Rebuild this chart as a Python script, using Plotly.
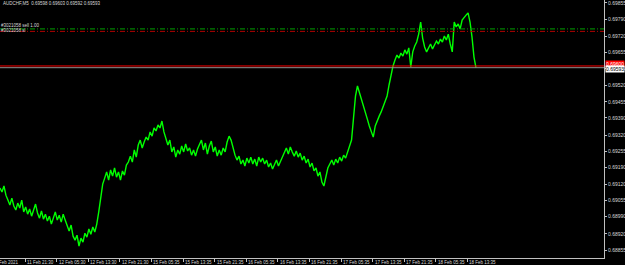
import plotly.graph_objects as go

# ---------------- data ----------------
symbol_caption = "AUDCHF,M5  0.69598 0.69603 0.69592 0.69593"

bar_step = 6  # M5 bars between stored closes

closes = [
    0.69106, 0.69090, 0.69114, 0.69077, 0.69057, 0.69037, 0.69065, 0.69033, 0.69017, 0.69045,
    0.69025, 0.69057, 0.69009, 0.69029, 0.69000, 0.69021, 0.68992, 0.69017, 0.69041, 0.69005,
    0.68984, 0.69013, 0.68980, 0.69000, 0.68972, 0.68992, 0.68960, 0.68984, 0.69009, 0.68976,
    0.68996, 0.68968, 0.69000, 0.68976, 0.68952, 0.68932, 0.68956, 0.68911, 0.68895, 0.68915,
    0.68871, 0.68903, 0.68887, 0.68923, 0.68907, 0.68940, 0.68919, 0.68948, 0.68928, 0.68960,
    0.69009, 0.69073, 0.69122, 0.69146, 0.69171, 0.69138, 0.69179, 0.69154, 0.69187, 0.69150,
    0.69171, 0.69138, 0.69175, 0.69158, 0.69199, 0.69211, 0.69235, 0.69211, 0.69260, 0.69231,
    0.69280, 0.69300, 0.69268, 0.69292, 0.69312, 0.69300, 0.69333, 0.69316, 0.69349, 0.69337,
    0.69361, 0.69349, 0.69377, 0.69333, 0.69308, 0.69280, 0.69300, 0.69252, 0.69272, 0.69231,
    0.69260, 0.69243, 0.69276, 0.69252, 0.69284, 0.69256, 0.69268, 0.69239, 0.69260, 0.69235,
    0.69264, 0.69280, 0.69300, 0.69260, 0.69288, 0.69243, 0.69276, 0.69296, 0.69252, 0.69272,
    0.69235, 0.69260, 0.69239, 0.69268, 0.69252, 0.69292, 0.69316, 0.69300, 0.69268, 0.69239,
    0.69219, 0.69235, 0.69203, 0.69219, 0.69195, 0.69227, 0.69207, 0.69231, 0.69203, 0.69223,
    0.69195, 0.69231, 0.69211, 0.69227, 0.69203, 0.69219, 0.69191, 0.69207, 0.69183, 0.69203,
    0.69219, 0.69195, 0.69215, 0.69235, 0.69252, 0.69268, 0.69243, 0.69272, 0.69252, 0.69235,
    0.69256, 0.69231, 0.69247, 0.69219, 0.69235, 0.69207, 0.69223, 0.69191, 0.69207, 0.69175,
    0.69187, 0.69154, 0.69171, 0.69130, 0.69114, 0.69154, 0.69187, 0.69203, 0.69219, 0.69199,
    0.69223, 0.69207, 0.69231, 0.69215, 0.69239, 0.69227, 0.69252, 0.69268, 0.69300, 0.69389,
    0.69478, 0.69519, 0.69490, 0.69462, 0.69438, 0.69414, 0.69385, 0.69357, 0.69333, 0.69312,
    0.69357, 0.69381, 0.69397, 0.69414, 0.69434, 0.69458, 0.69478, 0.69523, 0.69563, 0.69600,
    0.69624, 0.69644, 0.69632, 0.69652, 0.69640, 0.69665, 0.69648, 0.69673, 0.69596, 0.69657,
    0.69681, 0.69697, 0.69729, 0.69778, 0.69713, 0.69677, 0.69657, 0.69673, 0.69689, 0.69669,
    0.69685, 0.69701, 0.69689, 0.69709, 0.69697, 0.69721, 0.69705, 0.69729, 0.69689, 0.69657,
    0.69778, 0.69758, 0.69770, 0.69750, 0.69786, 0.69798, 0.69806, 0.69815, 0.69778, 0.69717,
    0.69636, 0.69593,
]

time_tick_bars = [76, 172, 268, 364, 460, 556, 652, 748, 844, 940, 1036, 1132, 1228, 1324, 1420]
time_tick_labels = [
    "11 Feb 21:30", "12 Feb 05:30", "12 Feb 13:30", "12 Feb 21:30", "15 Feb 05:35",
    "15 Feb 13:35", "15 Feb 21:35", "16 Feb 05:35", "16 Feb 13:35", "16 Feb 21:35",
    "17 Feb 05:35", "17 Feb 13:35", "17 Feb 21:35", "18 Feb 05:35", "18 Feb 13:35",
]
first_time_label = "11 Feb 2021"

price_ticks = [0.69855, 0.69790, 0.69720, 0.69655, 0.69590, 0.69520, 0.69455, 0.69390,
               0.69320, 0.69255, 0.69190, 0.69120, 0.69055, 0.68990, 0.68920, 0.68855]
price_tick_labels = ["%.5f" % v for v in price_ticks]

order_open_price = 0.69750
order_sl_price = 0.69740
order_open_label = "#3021058 sell 1.00"
order_sl_label = "#3021058 sl"
ask_price = 0.69600
bid_price = 0.69593

# ---------------- figure ----------------
bars = list(range(0, bar_step * len(closes), bar_step))

AXIS = "#c0c0c0"
TXT = "#d8d8d8"
FONT = "Liberation Sans"

fig = go.Figure()
fig.add_trace(go.Scatter(x=bars, y=closes, mode="lines",
                         line=dict(color="#00ff00", width=1.4), hoverinfo="skip"))

shapes = [
    dict(type="line", xref="paper", x0=0, x1=1, yref="y", y0=order_open_price, y1=order_open_price,
         line=dict(color="#00a000", width=1, dash="5px,2px,1px,2px")),
    dict(type="line", xref="paper", x0=0, x1=1, yref="y", y0=order_sl_price, y1=order_sl_price,
         line=dict(color="#b00000", width=1, dash="5px,2px,1px,2px")),
    dict(type="line", xref="paper", x0=0, x1=1, yref="y", y0=ask_price, y1=ask_price,
         line=dict(color="#ff0000", width=1)),
    dict(type="line", xref="paper", x0=0, x1=1, yref="y", y0=bid_price, y1=bid_price,
         line=dict(color="#909090", width=1)),
]

annotations = [
    dict(text=symbol_caption, xref="paper", yref="paper", x=0, y=1, xanchor="left", yanchor="top",
         xshift=1, yshift=1, showarrow=False, font=dict(size=4.5, color=TXT, family=FONT)),
    dict(text=order_open_label, xref="paper", yref="y", x=0, y=order_open_price,
         xanchor="left", yanchor="bottom", showarrow=False, borderpad=0,
         font=dict(size=4.5, color=TXT, family=FONT)),
    dict(text=order_sl_label, xref="paper", yref="y", x=0, y=order_sl_price,
         xanchor="left", yanchor="bottom", showarrow=False, borderpad=0, yshift=-3,
         font=dict(size=4.5, color=TXT, family=FONT)),
    dict(text="%.5f" % ask_price, xref="paper", yref="y", x=1, y=ask_price, xanchor="left",
         yanchor="middle", xshift=1, yshift=2, showarrow=False, bgcolor="#ff0000", borderpad=0,
         font=dict(size=5, color="#ffffff", family=FONT)),
    dict(text="%.5f" % bid_price, xref="paper", yref="y", x=1, y=bid_price, xanchor="left",
         yanchor="middle", xshift=1, yshift=-1, showarrow=False, bgcolor="#ffffff", borderpad=0,
         font=dict(size=5, color="#000000", family=FONT)),
    dict(text=first_time_label, xref="paper", yref="paper", x=19 / 604, y=0, xanchor="right",
         yanchor="top", yshift=-1, showarrow=False, borderpad=0,
         font=dict(size=4.5, color=TXT, family=FONT)),
]
for b, lab in zip(time_tick_bars, time_tick_labels):
    annotations.append(dict(text=lab, xref="x", yref="paper", x=b, y=0, xanchor="left",
                            yanchor="top", xshift=1, yshift=-1, showarrow=False, borderpad=0,
                            font=dict(size=4.5, color=TXT, family=FONT)))

fig.update_layout(
    width=625, height=265,
    margin=dict(l=0, r=21, t=0, b=7, pad=0),
    paper_bgcolor="#000000", plot_bgcolor="#000000",
    showlegend=False,
    shapes=shapes, annotations=annotations,
    xaxis=dict(range=[0, 1835], showgrid=False, zeroline=False, showline=True,
               linecolor=AXIS, linewidth=1, ticks="outside", ticklen=3, tickcolor=AXIS,
               tickwidth=1, tickvals=time_tick_bars, showticklabels=False),
    yaxis=dict(side="right", range=[0.688226, 0.698671], showgrid=False, zeroline=False,
               showline=True, linecolor=AXIS, linewidth=1, ticks="outside", ticklen=2,
               tickcolor=AXIS, tickwidth=1, tickvals=price_ticks, ticktext=price_tick_labels,
               ticklabeloverflow="allow",
               tickfont=dict(size=5, color=TXT, family=FONT)),
)

fig.write_html("out.html")
